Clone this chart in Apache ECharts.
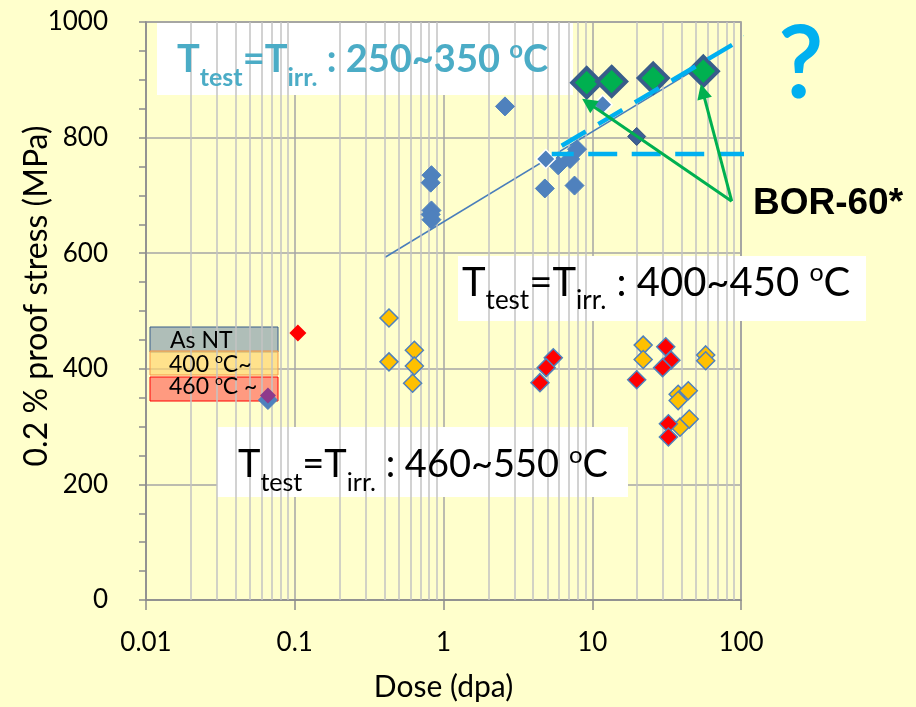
<!DOCTYPE html>
<html>
<head>
<meta charset="utf-8">
<script src="https://cdn.jsdelivr.net/npm/echarts@6/dist/echarts.min.js"></script>
<style>
  html, body { margin: 0; padding: 0; background: #FFFFCC; }
  #chart { width: 916px; height: 707px; }
</style>
</head>
<body>
<div id="chart"></div>
<script>
// Dose (dpa) vs 0.2 % proof stress (MPa)

// Tests at 250~350 °C
const lowTemp = [[0.066, 346], [0.83, 735], [0.82, 722], [0.83, 674], [0.82, 667], [0.83, 658],
                 [2.59, 854], [4.8, 712], [5.9, 752], [7.1, 763], [7.9, 780], [7.6, 717]];
const lowTempEdge = [[4.87, 763], [11.75, 857]];
const lowTempDark = [[19.9, 802]];
// BOR-60 irradiations
const bor60 = [[9.18, 895], [13.5, 897], [25.7, 903], [55.8, 915]];
// As NT reference
const asNT = [[0.066, 354]];
// Tests from 400 °C
const temp400 = [[0.43, 488], [0.43, 412], [0.637, 432], [0.637, 405], [0.62, 375],
                 [22, 441], [22, 416], [57.9, 424], [57.9, 414],
                 [37.8, 356], [44.2, 362], [37.8, 345], [38.9, 299], [44.9, 313]];
// Tests from 460 °C
const temp460 = [[5.47, 419], [4.9, 402], [4.45, 376], [31.2, 438], [33.8, 415], [29.7, 402],
                 [19.9, 381], [32.5, 305], [32.5, 282]];
const temp460Ref = [[0.105, 462]];

// Guide lines
const trendLine = [[0.405, 593], [57, 928]];
const plateauLine = [[5.34, 771.5], [140, 771.5]];
const riseLine = [[6.23, 786], [121, 982]];
const arrowFrom = [86.6, 690];
const arrowTips = [[9.41, 860], [55.3, 880]];

// Vertical grid lines inside each decade
const xMinorGrid = [];
[0.01, 0.1, 1, 10].forEach(function (d) {
  for (let k = 2; k <= 9; k++) xMinorGrid.push(+(d * k).toPrecision(3));
});

const FONT = 'Lato, "Liberation Sans", sans-serif';
const chart = echarts.init(document.getElementById('chart'));

// Rich text with subscripts and a superscript "o"; all tokens hang from the top
// of the line and are shifted with padding.
function richLabel(text, size, opts) {
  const s = opts || {};
  const base = { fontSize: size, fontFamily: FONT, fontWeight: s.bold ? 'bold' : 'normal',
                 fill: s.color || '#000', verticalAlign: 'top' };
  const P = Math.round(size * 0.1);
  return {
    text: text,
    verticalAlign: 'top',
    fill: s.color || '#000',
    rich: {
      m: Object.assign({}, base, { padding: [P, 0, 0, 0] }),
      s: Object.assign({}, base, { fontSize: Math.round(size * 0.66), padding: [Math.round(P + size * 0.63), 0, 0, 0] }),
      o: Object.assign({}, base, { fontSize: Math.round(size * 0.62), padding: [Math.max(0, Math.round(P - size * 0.08)), 0, 0, 0] })
    }
  };
}
function tempText(range, size, opts) {
  return richLabel('{m|T}{s|test}{m|=T}{s|irr.}{m| : ' + range + ' }{o|o}{m|C}', size, opts);
}

function diamond(name, data, size, fill, border, bw, z) {
  return {
    name: name, type: 'scatter', data: data, symbol: 'diamond', symbolSize: size, z: z || 10,
    itemStyle: { color: fill, borderColor: border, borderWidth: bw, opacity: 1 },
    emphasis: { disabled: true }
  };
}

chart.setOption({
  backgroundColor: '#FFFFCC',
  animation: false,
  grid: { left: 146, top: 22, width: 595, height: 582, show: true,
          borderColor: '#8C8C8C', borderWidth: 1.5, backgroundColor: 'transparent' },
  xAxis: {
    type: 'log', logBase: 10, min: 0.01, max: 100,
    name: 'Dose (dpa)', nameLocation: 'middle', nameGap: 72,
    nameTextStyle: { fontSize: 30, fontFamily: FONT, color: '#000' },
    axisLine: { lineStyle: { color: '#8C8C8C', width: 1.5 } },
    axisTick: { show: true, length: 10, lineStyle: { color: '#8C8C8C', width: 1.5 } },
    axisLabel: { fontSize: 26, fontFamily: FONT, color: '#000', margin: 30,
                 formatter: function (v) { return String(v); } },
    splitLine: { show: true, lineStyle: { color: '#A6A6A6', width: 1.5 } },
    minorTick: { show: false }, minorSplitLine: { show: false }
  },
  yAxis: {
    type: 'value', min: 0, max: 1000, interval: 200,
    axisLine: { show: true, lineStyle: { color: '#8C8C8C', width: 1.5 } },
    axisTick: { show: true, length: 7, lineStyle: { color: '#8C8C8C', width: 1.5 } },
    minorTick: { show: true, splitNumber: 4, length: 7, lineStyle: { color: '#8C8C8C', width: 1.5 } },
    axisLabel: { fontSize: 26, fontFamily: FONT, color: '#000', margin: 38,
                 formatter: function (v) { return String(v); } },
    splitLine: { show: true, lineStyle: { color: '#A6A6A6', width: 1.5 } }
  },
  series: [
    {
      name: 'minor grid', type: 'line', data: [], z: 0, silent: true,
      markLine: {
        silent: true, symbol: 'none', animation: false,
        label: { show: false },
        lineStyle: { color: '#C3C3C3', width: 1.5, type: 'solid' },
        data: xMinorGrid.map(function (v) { return { xAxis: v }; })
      }
    },
    {
      name: 'trend', type: 'line', data: trendLine, symbol: 'none', z: 3,
      lineStyle: { color: '#4A7EBB', width: 1.5 }
    },
    diamond('250~350 °C', lowTemp, 19, '#4F81BD', '#4F81BD', 1),
    diamond('250~350 °C edge', lowTempEdge, 19, '#4F81BD', '#FFFFFF', 1.5),
    diamond('250~350 °C dark', lowTempDark, 18, '#3D5F95', '#2E4B7A', 1),
    diamond('BOR-60', bor60, 29, '#00B050', '#385D8A', 4, 11),
    diamond('400 °C~', temp400, 18, '#FFC000', '#4F81BD', 1.5),
    diamond('460 °C ~', temp460, 18, '#FF0000', '#4F81BD', 1.5),
    diamond('460 °C ref', temp460Ref, 17, '#FF0000', '#FF0000', 0),
    diamond('As NT', asNT, 16, '#8E3A8C', '#8E3A8C', 0, 12),
    {
      name: 'plateau', type: 'line', data: plateauLine, symbol: 'none', clip: false, z: 13,
      lineStyle: { color: '#00B0F0', width: 4.5, type: [29, 14.5], dashOffset: 7 }
    },
    {
      name: 'rise', type: 'line', data: riseLine, symbol: 'none', clip: false, z: 13,
      lineStyle: { color: '#00B0F0', width: 4.5, type: [28, 14.5] }
    },
    {
      name: 'BOR-60 arrows', type: 'lines', coordinateSystem: 'cartesian2d', z: 14,
      symbol: ['none', 'triangle'], symbolSize: [11, 15],
      lineStyle: { color: '#00B050', width: 3, opacity: 1, curveness: 0 },
      data: arrowTips.map(function (t) { return { coords: [arrowFrom, t] }; })
    }
  ],
  graphic: [
    // annotation boxes
    { type: 'rect', z: 5, shape: { x: 157, y: 23, width: 416, height: 72 }, style: { fill: '#FFFFFF' } },
    { type: 'text', z: 6, x: 177, y: 37, style: tempText('250~350', 38, { bold: true, color: '#4BACC6' }) },
    { type: 'rect', z: 5, shape: { x: 458, y: 256, width: 408, height: 65 }, style: { fill: '#FFFFFF' } },
    { type: 'text', z: 6, x: 462, y: 259, style: tempText('400~450', 40) },
    { type: 'rect', z: 5, shape: { x: 217, y: 427, width: 411, height: 70 }, style: { fill: '#FFFFFF' } },
    { type: 'text', z: 6, x: 238, y: 442, style: tempText('460~550', 38) },
    // material condition key
    { type: 'rect', z: 5, shape: { x: 150, y: 327, width: 128, height: 25 },
      style: { fill: 'rgba(141,162,175,0.7)', stroke: '#385D8A', lineWidth: 1 } },
    { type: 'rect', z: 5, shape: { x: 150, y: 351, width: 128, height: 24 },
      style: { fill: 'rgba(255,214,113,0.7)', stroke: '#F79646', lineWidth: 1 } },
    { type: 'rect', z: 5, shape: { x: 150, y: 377, width: 128, height: 24 },
      style: { fill: 'rgba(255,111,95,0.7)', stroke: '#FF0000', lineWidth: 1 } },
    { type: 'text', z: 6, x: 170, y: 327, style: richLabel('{m|As NT}', 23) },
    { type: 'text', z: 6, x: 169, y: 351, style: richLabel('{m|400 }{o|o}{m|C~}', 23) },
    { type: 'text', z: 6, x: 169, y: 373, style: richLabel('{m|460 }{o|o}{m|C ~}', 23) },
    // axis title for stress
    { type: 'text', z: 6, x: 37, y: 296, rotation: Math.PI / 2,
      style: { text: '0.2 % proof stress (MPa)', fontSize: 32, fontFamily: FONT, fill: '#000',
               align: 'center', verticalAlign: 'middle' } },
    // labels outside the plot
    { type: 'text', z: 6, x: 753, y: 204, style: { text: 'BOR-60*', fontSize: 37, fontWeight: 'bold',
        fontFamily: '"Liberation Sans", sans-serif', fill: '#000', verticalAlign: 'middle' } },
    { type: 'text', z: 6, x: 779, y: 16, style: { text: '?', fontSize: 98, fontFamily: FONT, fill: '#00B0F0',
        stroke: '#00B0F0', lineWidth: 2 } }
  ]
});
</script>
</body>
</html>
